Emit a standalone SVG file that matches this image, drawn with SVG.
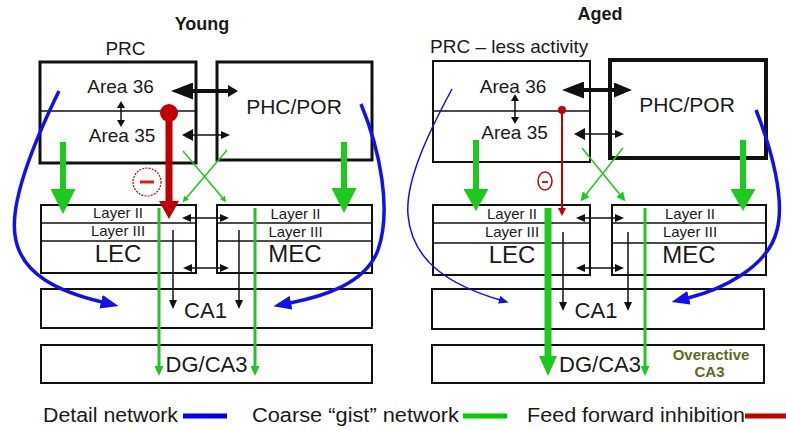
<svg xmlns="http://www.w3.org/2000/svg" width="786" height="430" viewBox="0 0 786 430">
<defs>
<style>
text{font-family:"Liberation Sans",Arial,sans-serif;fill:#1a1a1a}
.t{font-size:18px;font-weight:bold;text-anchor:middle}
.c{text-anchor:middle}
.area{font-size:19px;text-anchor:middle}
.lay{font-size:15px;text-anchor:middle}
.big{font-size:24px;text-anchor:middle}
.mid{font-size:22px;text-anchor:middle}
.phc{font-size:21px;text-anchor:middle}
.leg{font-size:20px}
.box{fill:none;stroke:#111;stroke-width:2}
.b3{stroke-width:3}
.b4{stroke-width:4}
.div{stroke:#111;stroke-width:1.5}
.k{stroke:#111;stroke-width:1.5;fill:none}
.k4{stroke:#111;stroke-width:4;fill:none}
.g{stroke:#1ec81e;fill:none}
.r{stroke:#c00000;fill:none}
.bl{stroke:#1010f0;fill:none}
.ov{font-size:15px;font-weight:bold;text-anchor:middle;fill:#5f6a1c}
</style>
<marker id="kS" viewBox="0 0 9 8" refX="1" refY="4" markerWidth="9" markerHeight="8" markerUnits="userSpaceOnUse" orient="auto-start-reverse"><path d="M0,0L9,4L0,8z" fill="#111"/></marker>
<marker id="kV" viewBox="0 0 7 8" refX="1" refY="4" markerWidth="7" markerHeight="8" markerUnits="userSpaceOnUse" orient="auto-start-reverse"><path d="M0,0L7,4L0,8z" fill="#111"/></marker>
<marker id="kM" viewBox="0 0 11 12" refX="1" refY="6" markerWidth="11" markerHeight="12" markerUnits="userSpaceOnUse" orient="auto-start-reverse"><path d="M0,0L11,6L0,12z" fill="#111"/></marker>
<marker id="kXL" viewBox="0 0 22 17" refX="1" refY="8.5" markerWidth="22" markerHeight="17" markerUnits="userSpaceOnUse" orient="auto-start-reverse"><path d="M0,0L22,8.5L0,17z" fill="#111"/></marker>
<marker id="kL" viewBox="0 0 10 12" refX="1" refY="6" markerWidth="10" markerHeight="12" markerUnits="userSpaceOnUse" orient="auto-start-reverse"><path d="M0,0L10,6L0,12z" fill="#111"/></marker>
<marker id="kR" viewBox="0 0 18 15" refX="1" refY="7.5" markerWidth="18" markerHeight="15" markerUnits="userSpaceOnUse" orient="auto-start-reverse"><path d="M0,0L18,7.5L0,15z" fill="#111"/></marker>
<marker id="gL" viewBox="0 0 25 25" refX="1" refY="12.5" markerWidth="25" markerHeight="25" markerUnits="userSpaceOnUse" orient="auto"><path d="M0,0L25,12.5L0,25z" fill="#1ec81e"/></marker>
<marker id="gL2" viewBox="0 0 22 25" refX="1" refY="12.5" markerWidth="22" markerHeight="25" markerUnits="userSpaceOnUse" orient="auto"><path d="M0,0L22,12.5L0,25z" fill="#1ec81e"/></marker>
<marker id="gA" viewBox="0 0 20 18" refX="1" refY="9" markerWidth="20" markerHeight="18" markerUnits="userSpaceOnUse" orient="auto"><path d="M0,0L20,9L0,18z" fill="#1ec81e"/></marker>
<marker id="gS" viewBox="0 0 10 9" refX="1" refY="4.5" markerWidth="10" markerHeight="9" markerUnits="userSpaceOnUse" orient="auto"><path d="M0,0L10,4.5L0,9z" fill="#1ec81e"/></marker>
<marker id="gX" viewBox="0 0 6 6" refX="1" refY="3" markerWidth="6" markerHeight="6" markerUnits="userSpaceOnUse" orient="auto"><path d="M0,0L6,3L0,6z" fill="#1ec81e"/></marker>
<marker id="gX2" viewBox="0 0 9 9" refX="1" refY="4.5" markerWidth="9" markerHeight="9" markerUnits="userSpaceOnUse" orient="auto"><path d="M0,0L9,4.5L0,9z" fill="#1ec81e"/></marker>
<marker id="rL" viewBox="0 0 18 20" refX="1" refY="10" markerWidth="18" markerHeight="20" markerUnits="userSpaceOnUse" orient="auto"><path d="M0,0L18,10L0,20z" fill="#c00000"/></marker>
<marker id="rS" viewBox="0 0 8 8" refX="1" refY="4" markerWidth="8" markerHeight="8" markerUnits="userSpaceOnUse" orient="auto"><path d="M0,0L8,4L0,8z" fill="#c00000"/></marker>
<marker id="bL" viewBox="0 0 18 14" refX="1" refY="7" markerWidth="18" markerHeight="14" markerUnits="userSpaceOnUse" orient="auto"><path d="M0,0L18,7L0,14z" fill="#1010f0"/></marker>
<marker id="bS" viewBox="0 0 10 8" refX="1" refY="4" markerWidth="10" markerHeight="8" markerUnits="userSpaceOnUse" orient="auto"><path d="M0,0L10,4L0,8z" fill="#1010f0"/></marker>
</defs>
<rect width="786" height="430" fill="#fff"/>

<!-- titles -->
<g id="title-young"><text class="t" x="202" y="30">Young</text></g>
<g id="title-aged"><text class="t" x="600" y="20">Aged</text></g>

<!-- Young panel nodes -->
<g id="y-prc">
<text x="125.5" y="55" class="c" style="font-size:19px">PRC</text>
<rect class="box b3" x="40" y="62" width="156" height="101"/>
<line class="div" x1="40" y1="111" x2="196" y2="111"/>
<text class="area" x="120.5" y="93">Area 36</text>
<text class="area" x="122" y="142">Area 35</text>
</g>
<g id="y-phc">
<rect class="box b3" x="217" y="62" width="155" height="98"/>
<text class="phc" x="294" y="114">PHC/POR</text>
</g>
<g id="y-lec">
<rect class="box" x="41" y="205" width="155" height="68"/>
<line class="div" x1="41" y1="223" x2="196" y2="223"/>
<line class="div" x1="41" y1="241" x2="196" y2="241"/>
<text class="lay" x="118" y="218">Layer II</text>
<text class="lay" x="118" y="236">Layer III</text>
<text class="big" x="118" y="262">LEC</text>
</g>
<g id="y-mec">
<rect class="box" x="217" y="205" width="155" height="68"/>
<line class="div" x1="217" y1="223" x2="372" y2="223"/>
<line class="div" x1="217" y1="241" x2="372" y2="241"/>
<text class="lay" x="295.5" y="219">Layer II</text>
<text class="lay" x="295.5" y="237">Layer III</text>
<text class="big" x="295" y="262">MEC</text>
</g>
<g id="y-ca1">
<rect class="box" x="41" y="289" width="331" height="39"/>
<text class="mid" x="205.5" y="318">CA1</text>
</g>
<g id="y-dg">
<rect class="box" x="41" y="345" width="331" height="38"/>
<text class="mid" x="206.5" y="372">DG/CA3</text>
</g>

<!-- Aged panel nodes -->
<g id="a-prc">
<text x="430" y="53" style="font-size:19px">PRC – less activity</text>
<rect class="box" x="433" y="61" width="157" height="101"/>
<line class="div" x1="433" y1="111" x2="590" y2="111"/>
<text class="area" x="513" y="93">Area 36</text>
<text class="area" x="514.5" y="139">Area 35</text>
</g>
<g id="a-phc">
<rect class="box b4" x="610" y="60" width="156" height="98"/>
<text class="phc" x="687" y="112">PHC/POR</text>
</g>
<g id="a-lec">
<rect class="box" x="433" y="205" width="157" height="70"/>
<line class="div" x1="433" y1="223" x2="590" y2="223"/>
<line class="div" x1="433" y1="243" x2="590" y2="243"/>
<text class="lay" x="512" y="219">Layer II</text>
<text class="lay" x="512" y="237">Layer III</text>
<text class="big" x="512" y="263">LEC</text>
</g>
<g id="a-mec">
<rect class="box" x="612" y="205" width="154" height="70"/>
<line class="div" x1="612" y1="223" x2="766" y2="223"/>
<line class="div" x1="612" y1="243" x2="766" y2="243"/>
<text class="lay" x="690" y="219">Layer II</text>
<text class="lay" x="690" y="237">Layer III</text>
<text class="big" x="689" y="263">MEC</text>
</g>
<g id="a-ca1">
<rect class="box" x="432" y="289" width="332" height="40"/>
<text class="mid" x="596" y="318">CA1</text>
</g>
<g id="a-dg">
<rect class="box" x="432" y="345" width="332" height="38"/>
<text class="mid" x="600" y="372">DG/CA3</text>
<text class="ov" x="711" y="360">Overactive</text>
<text class="ov" x="709.5" y="377">CA3</text>
</g>

<!-- connectors -->
<g id="connectors">
<!-- Young -->
<line class="k4" x1="192" y1="91" x2="229" y2="91" marker-start="url(#kXL)" marker-end="url(#kL)"/>
<line class="k" x1="192" y1="135" x2="222" y2="135" marker-start="url(#kM)" marker-end="url(#kS)"/>
<line class="k" x1="121" y1="107" x2="121" y2="121" marker-start="url(#kV)" marker-end="url(#kV)"/>
<line class="k" x1="190" y1="218" x2="221" y2="218" marker-start="url(#kS)" marker-end="url(#kS)"/>
<line class="k" x1="191" y1="268" x2="221" y2="268" marker-start="url(#kS)" marker-end="url(#kS)"/>
<line class="k" x1="173" y1="230" x2="173" y2="301" marker-end="url(#kS)"/>
<line class="k" x1="239" y1="230" x2="239" y2="301" marker-end="url(#kS)"/>
<line class="g" stroke-width="6" x1="63" y1="142" x2="63" y2="190" marker-end="url(#gL)"/>
<line class="g" stroke-width="6" x1="344" y1="142" x2="344" y2="189" marker-end="url(#gL)"/>
<line class="g" stroke-width="3" x1="159" y1="208" x2="159" y2="367" marker-end="url(#gS)"/>
<line class="g" stroke-width="3" x1="255" y1="208" x2="255" y2="367" marker-end="url(#gS)"/>
<line class="g" stroke-width="1.5" x1="183" y1="151" x2="223.1" y2="198.4" marker-end="url(#gX)"/>
<line class="g" stroke-width="1.5" x1="227" y1="150" x2="185.9" y2="198.4" marker-end="url(#gX)"/>
<circle cx="169" cy="113" r="9" fill="#c00000"/>
<line class="r" stroke-width="7" x1="169" y1="113" x2="169" y2="202" marker-end="url(#rL)"/>
<circle class="r" cx="147" cy="182" r="14" stroke="#e03030" stroke-width="1.2" stroke-dasharray="2 1.2"/>
<line x1="140" y1="182" x2="154" y2="182" stroke="#d02020" stroke-width="3"/>
<path class="bl" stroke-width="3.5" d="M59,91 C35,140 10,200 15,235 C20,275 60,292 102,302" marker-end="url(#bL)"/>
<path class="bl" stroke-width="3.5" d="M361,104 C380,150 392,210 378,250 C365,285 320,297 290,303" marker-end="url(#bL)"/>

<!-- Aged -->
<line class="k4" x1="583" y1="90" x2="615" y2="90" marker-start="url(#kXL)" marker-end="url(#kR)"/>
<line class="k" x1="584" y1="134" x2="616" y2="134" marker-start="url(#kM)" marker-end="url(#kS)"/>
<line class="k" x1="515" y1="100" x2="515" y2="118" marker-start="url(#kV)" marker-end="url(#kV)"/>
<line class="k" x1="584" y1="218" x2="616" y2="218" marker-start="url(#kS)" marker-end="url(#kS)"/>
<line class="k" x1="584" y1="268" x2="616" y2="268" marker-start="url(#kS)" marker-end="url(#kS)"/>
<line class="k" x1="563" y1="232" x2="563" y2="303" marker-end="url(#kS)"/>
<line class="k" x1="628" y1="232" x2="628" y2="303" marker-end="url(#kS)"/>
<line class="g" stroke-width="6" x1="476" y1="140" x2="476" y2="190" marker-end="url(#gL2)"/>
<line class="g" stroke-width="6" x1="743" y1="140" x2="743" y2="190" marker-end="url(#gL2)"/>
<line class="g" stroke-width="7" x1="548" y1="208" x2="548" y2="357" marker-end="url(#gA)"/>
<line class="g" stroke-width="3" x1="645" y1="208" x2="645" y2="367" marker-end="url(#gS)"/>
<line class="g" stroke-width="1.5" x1="582" y1="148" x2="620.3" y2="195" marker-end="url(#gX2)"/>
<line class="g" stroke-width="1.5" x1="623" y1="148" x2="585.6" y2="195" marker-end="url(#gX2)"/>
<circle cx="562" cy="110" r="4" fill="#c00000"/>
<line class="r" stroke-width="2" x1="562" y1="110" x2="562" y2="209" marker-end="url(#rS)"/>
<ellipse class="r" cx="545" cy="181" rx="7" ry="9" stroke="#e02020" stroke-width="1.5"/>
<line x1="542" y1="182" x2="548" y2="182" stroke="#d02020" stroke-width="2"/>
<path class="bl" stroke-width="1.5" d="M452,89 C430,130 405,180 408,215 C412,262 450,285 500,300" marker-end="url(#bS)"/>
<path class="bl" stroke-width="3.5" d="M756,110 C772,150 785,200 777,230 C768,268 720,290 688,298" marker-end="url(#bL)"/>
</g>

<!-- legend -->
<g id="legend">
<text class="leg" x="43" y="422" textLength="135" lengthAdjust="spacingAndGlyphs">Detail network</text>
<line x1="183" y1="416" x2="227" y2="416" stroke="#0000ff" stroke-width="5"/>
<text class="leg" x="252" y="422" textLength="207" lengthAdjust="spacingAndGlyphs">Coarse “gist” network</text>
<line x1="463" y1="416" x2="507" y2="416" stroke="#00cc00" stroke-width="5"/>
<text class="leg" x="527" y="422" textLength="218" lengthAdjust="spacingAndGlyphs">Feed forward inhibition</text>
<line x1="745" y1="416" x2="786" y2="416" stroke="#c00000" stroke-width="5"/>
</g>
</svg>
